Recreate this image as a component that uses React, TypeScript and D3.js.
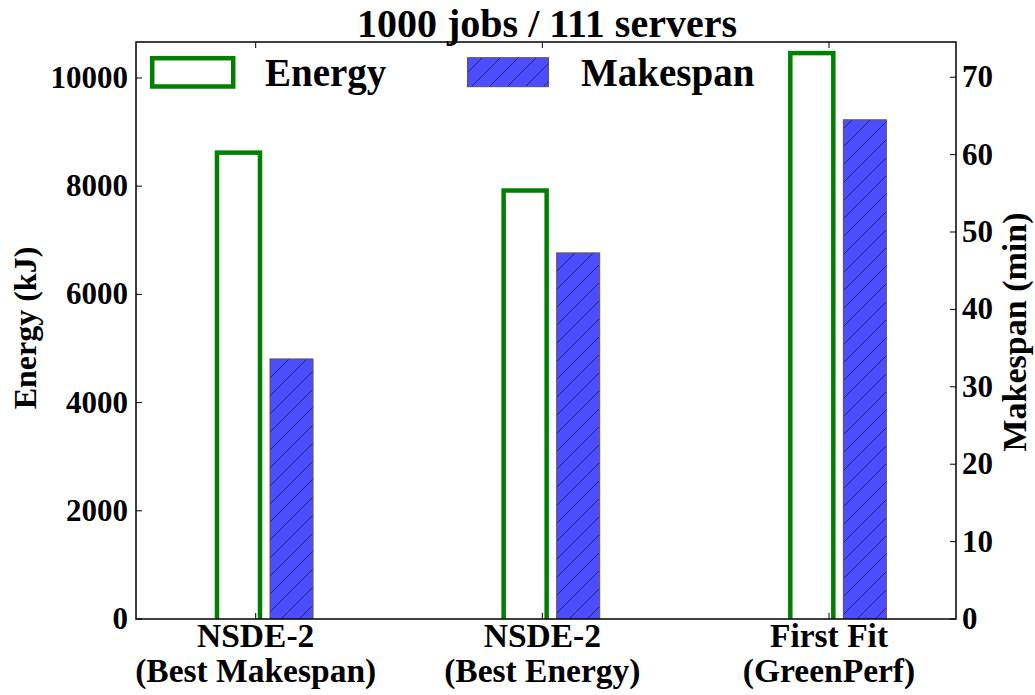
import React from "react";
import * as d3 from "d3";

const categories = ["NSDE-2|(Best Makespan)", "NSDE-2|(Best Energy)", "First Fit|(GreenPerf)"];
const energyValues = [8620, 7920, 10460];
const makespanValues = [33.6, 47.3, 64.5];
const energyTicks = [0, 2000, 4000, 6000, 8000, 10000];
const makespanTicks = [0, 10, 20, 30, 40, 50, 60, 70];
const title = "1000 jobs / 111 servers";
const seriesNames = ["Energy", "Makespan"];

const W = 1035;
const H = 695;
const M = { left: 136, right: 956, top: 42, bottom: 619 };
const FONT = "'Liberation Serif', 'Times New Roman', serif";

export default function App() {
  const x = d3.scaleLinear().domain([-0.4175, 2.443]).range([M.left, M.right]);
  const yE = d3.scaleLinear().domain([0, 10665]).range([M.bottom, M.top]);
  const yM = d3.scaleLinear().domain([0, 74.55]).range([M.bottom, M.top]);
  const green = "#008000";
  const blueFill = "#4d4dff";
  const hatchColor = "#1f1f66";
  const edge = "#555555";
  const tickLen = 6;
  const hs = 18;

  return (
    <svg width={W} height={H} style={{ position: "absolute", left: 0, top: 0, background: "#fff" }}
      fontFamily={FONT} fontWeight="bold">
      <defs>
        <pattern id="hatch" patternUnits="userSpaceOnUse" width={hs} height={hs}>
          <rect width={hs} height={hs} fill={blueFill} />
          <path d={`M0,${hs} L${hs},0 M-4,4 L4,-4 M${hs - 4},${hs + 4} L${hs + 4},${hs - 4}`}
            stroke={hatchColor} strokeWidth={0.9} />
        </pattern>
        <clipPath id="plotclip">
          <rect x={M.left} y={M.top} width={M.right - M.left} height={M.bottom - M.top} />
        </clipPath>
      </defs>
      <rect x={0} y={0} width={W} height={H} fill="#fff" />

      {/* bars */}
      <g clipPath="url(#plotclip)">
        {energyValues.map((v, i) => (
          <rect key={"e" + i} x={x(i - 0.135)} y={yE(v)} width={x(i + 0.015) - x(i - 0.135)}
            height={yE(0) - yE(v) + 3} fill="none" stroke={green} strokeWidth={4.5} />
        ))}
        {makespanValues.map((v, i) => (
          <rect key={"m" + i} x={x(i + 0.05)} y={yM(v)} width={x(i + 0.2) - x(i + 0.05)}
            height={yM(0) - yM(v)} fill="url(#hatch)" stroke={edge} strokeWidth={1} />
        ))}
      </g>

      {/* frame */}
      <rect x={M.left} y={M.top} width={M.right - M.left} height={M.bottom - M.top}
        fill="none" stroke="#000" strokeWidth={1.5} />

      {/* left ticks */}
      {energyTicks.map((t) => (
        <g key={"lt" + t}>
          <line x1={M.left} x2={M.left + tickLen} y1={yE(t)} y2={yE(t)} stroke="#000" strokeWidth={1} />
          <text x={128} y={yE(t) + 10} textAnchor="end" fontSize={31}>{t}</text>
        </g>
      ))}
      {/* right ticks */}
      {makespanTicks.map((t) => (
        <g key={"rt" + t}>
          <line x1={M.right - tickLen} x2={M.right} y1={yM(t)} y2={yM(t)} stroke="#000" strokeWidth={1} />
          <text x={962} y={yM(t) + 10} textAnchor="start" fontSize={31}>{t}</text>
        </g>
      ))}
      {/* x ticks */}
      {categories.map((c, i) => {
        const [l1, l2] = c.split("|");
        const cx = x(i);
        return (
          <g key={"xt" + i}>
            <line x1={cx} x2={cx} y1={M.bottom} y2={M.bottom - tickLen} stroke="#000" strokeWidth={1} />
            <line x1={cx} x2={cx} y1={M.top} y2={M.top + tickLen} stroke="#000" strokeWidth={1} />
            <text x={cx} y={647} textAnchor="middle" fontSize={33.5}>{l1}</text>
            <text x={cx} y={682} textAnchor="middle" fontSize={33.5}>{l2}</text>
          </g>
        );
      })}

      {/* axis labels */}
      <text transform={`translate(36,328) rotate(-90)`} textAnchor="middle" fontSize={32}>Energy (kJ)</text>
      <text transform={`translate(1026,332) rotate(-90)`} textAnchor="middle" fontSize={34}>Makespan (min)</text>

      {/* title */}
      <text x={547} y={37} textAnchor="middle" fontSize={40}>{title}</text>

      {/* legend */}
      <rect x={152.2} y={58.2} width={81} height={28.3} fill="none" stroke={green} strokeWidth={4.5} />
      <text x={265} y={86} fontSize={39}>{seriesNames[0]}</text>
      <rect x={467.5} y={57.7} width={81} height={29} fill="url(#hatch)" stroke={edge} strokeWidth={1} />
      <text x={581} y={86} fontSize={39}>{seriesNames[1]}</text>
    </svg>
  );
}
